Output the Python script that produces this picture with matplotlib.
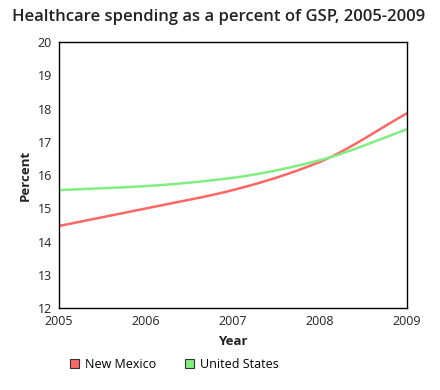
import numpy as np
import matplotlib.pyplot as plt
from matplotlib.patches import Patch

plt.rcParams['font.family'] = ['Open Sans', 'DejaVu Sans']

# Datos
years = [2005, 2006, 2007, 2008, 2009]
new_mexico = [14.47, 15.0, 15.55, 16.4, 17.86]
united_states = [15.55, 15.67, 15.92, 16.45, 17.38]
series_names = ["New Mexico", "United States"]
colors = ["#ff6666", "#80ee80"]


def suavizar(x, y, n=200):
    # curva monótona (Fritsch-Carlson) solo para dibujar la línea suavizada
    x = np.asarray(x, float)
    y = np.asarray(y, float)
    h = np.diff(x)
    d = np.diff(y) / h
    m = np.zeros_like(y)
    m[0], m[-1] = d[0], d[-1]
    for i in range(1, len(y) - 1):
        if d[i - 1] * d[i] > 0:
            m[i] = 2 / (1 / d[i - 1] + 1 / d[i])
    xs = np.linspace(x[0], x[-1], n)
    idx = np.clip(np.searchsorted(x, xs) - 1, 0, len(x) - 2)
    t = (xs - x[idx]) / h[idx]
    h00 = 2 * t**3 - 3 * t**2 + 1
    h10 = t**3 - 2 * t**2 + t
    h01 = -2 * t**3 + 3 * t**2
    h11 = t**3 - t**2
    ys = h00 * y[idx] + h10 * h[idx] * m[idx] + h01 * y[idx + 1] + h11 * h[idx] * m[idx + 1]
    return xs, ys


fig = plt.figure(figsize=(4.4, 3.9), dpi=100)
ax = fig.add_axes([0.134, 0.21, 0.791, 0.682])

for vals, color in zip([new_mexico, united_states], colors):
    xs, ys = suavizar(years, vals)
    ax.plot(xs, ys, color=color, linewidth=1.8)

ax.set_xlim(2005, 2009)
ax.set_ylim(12, 20)
ax.set_xticks(years)
ax.set_yticks(range(12, 21))
ax.tick_params(length=0, labelsize=9, colors="#222222")
ax.tick_params(axis="x", pad=5)
ax.tick_params(axis="y", pad=5)
for s in ax.spines.values():
    s.set_color("black")
    s.set_linewidth(1)

ax.set_xlabel("Year", fontsize=9.5, fontweight="bold", labelpad=5, color="#222222")
ax.set_ylabel("Percent", fontsize=9.5, fontweight="bold", labelpad=4, color="#222222")
fig.suptitle("Healthcare spending as a percent of GSP, 2005-2009",
             fontsize=12.0, fontweight="semibold", y=0.978, x=0.498, color="#222222")

handles = [Patch(facecolor=c, edgecolor="#333333", linewidth=0.8) for c in colors]
fig.legend(handles, series_names, loc="lower left", bbox_to_anchor=(0.133, 0.02),
           ncol=2, frameon=False, fontsize=9, handlelength=0.75, handleheight=0.75,
           handletextpad=0.45, columnspacing=2.3)

plt.savefig("out.png", dpi=100)
